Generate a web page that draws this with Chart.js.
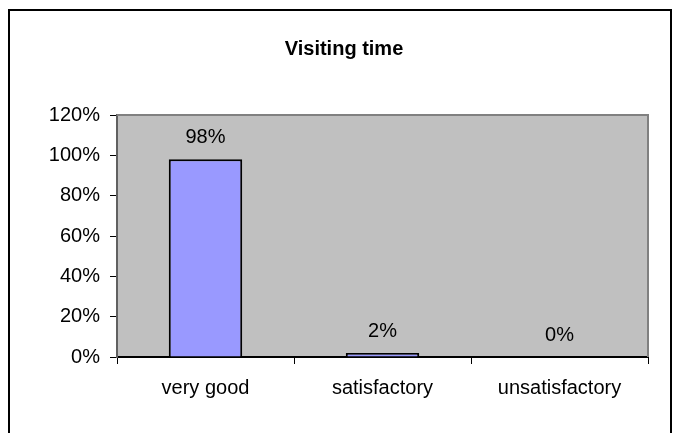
<!DOCTYPE html>
<html>
<head>
<meta charset="utf-8">
<title>Visiting time</title>
<script src="https://cdn.jsdelivr.net/npm/chart.js@4.4.0/dist/chart.umd.min.js"></script>
<style>
  html, body { margin: 0; padding: 0; background: #fff; }
  #wrap { width: 678px; height: 433px; position: relative; overflow: hidden; }
</style>
</head>
<body>
<div id="wrap"><canvas id="chart" width="678" height="433"></canvas></div>
<script>
const categories = ['very good', 'satisfactory', 'unsatisfactory'];
const shares = [98, 2, 0];
const yTicks = [0, 20, 40, 60, 80, 100, 120];

// Excel style background: outer frame + grey plot area
const frameAndPlot = {
  id: 'frameAndPlot',
  beforeDraw(chart) {
    const { ctx, chartArea: a } = chart;
    ctx.save();
    ctx.fillStyle = '#ffffff';
    ctx.fillRect(0, 0, chart.width, chart.height);
    ctx.strokeStyle = '#000000';
    ctx.lineWidth = 2;
    ctx.strokeRect(9, 10, 662, 460);
    ctx.fillStyle = '#c0c0c0';
    ctx.fillRect(a.left, a.top, a.right - a.left, a.bottom - a.top);
    ctx.restore();
  },
  afterDraw(chart) {
    const { ctx, chartArea: a } = chart;
    ctx.save();
    ctx.strokeStyle = '#808080';
    ctx.lineWidth = 2;
    ctx.beginPath();
    ctx.moveTo(a.left, a.top);
    ctx.lineTo(a.right, a.top);
    ctx.lineTo(a.right, a.bottom);
    ctx.stroke();
    ctx.restore();
  }
};

// value labels above the bars
const valueLabels = {
  id: 'valueLabels',
  afterDatasetsDraw(chart) {
    const { ctx } = chart;
    const meta = chart.getDatasetMeta(0);
    ctx.save();
    ctx.fillStyle = '#000';
    ctx.font = "20px 'Liberation Sans', Arial, sans-serif";
    ctx.textAlign = 'center';
    ctx.textBaseline = 'alphabetic';
    meta.data.forEach((bar, i) => {
      ctx.fillText(shares[i] + '%', bar.x, bar.y - 16);
    });
    ctx.restore();
  }
};

Chart.defaults.font.family = "'Liberation Sans', Arial, sans-serif";
Chart.defaults.color = '#000';

new Chart(document.getElementById('chart').getContext('2d'), {
  type: 'bar',
  data: {
    labels: categories,
    datasets: [{
      data: shares,
      backgroundColor: '#9999ff',
      borderColor: '#000000',
      borderWidth: 2,
      borderSkipped: 'start',
      categoryPercentage: 1,
      barPercentage: 0.415
    }]
  },
  options: {
    responsive: false,
    animation: false,
    layout: { padding: { left: 40, right: 30, top: 37, bottom: 0 } },
    plugins: {
      legend: { display: false },
      tooltip: { enabled: false },
      title: {
        display: true,
        text: 'Visiting time',
        color: '#000',
        font: { size: 20, weight: 'bold' },
        padding: { top: 0, bottom: 54 }
      }
    },
    scales: {
      x: {
        grid: { drawOnChartArea: false, drawTicks: true, tickLength: 7, color: '#000', lineWidth: 1 },
        border: { display: true, color: '#000', width: 2 },
        ticks: { font: { size: 20 }, padding: 12, maxRotation: 0 },
        afterFit(axis) { axis.height = 76; }
      },
      y: {
        min: 0,
        max: 120,
        afterBuildTicks(axis) { axis.ticks = yTicks.map(v => ({ value: v })); },
        grid: { drawOnChartArea: false, drawTicks: true, tickLength: 7, color: '#000', lineWidth: 1 },
        border: { display: true, color: '#606060', width: 2 },
        ticks: { font: { size: 20 }, padding: 10, callback: v => v + '%' },
        afterFit(axis) { axis.width = 77; }
      }
    }
  },
  plugins: [frameAndPlot, valueLabels]
});
</script>
</body>
</html>
